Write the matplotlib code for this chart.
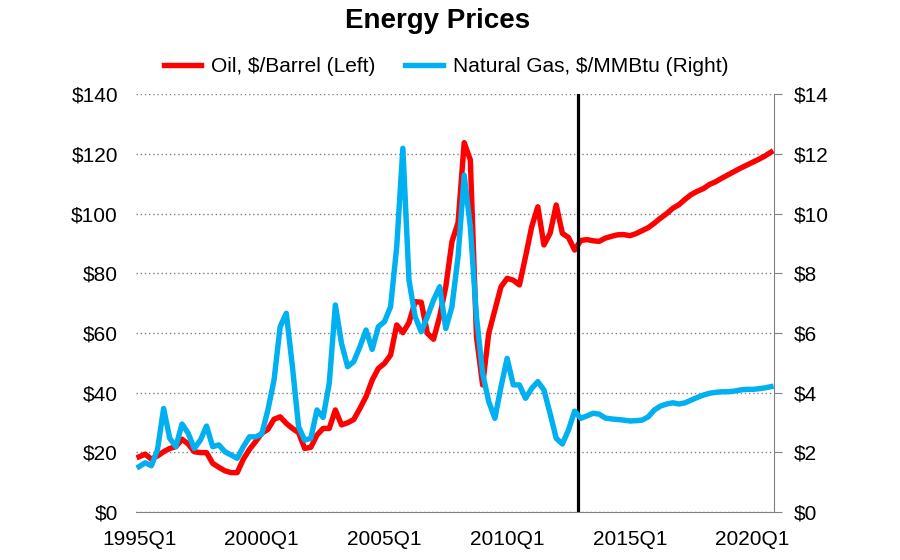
import numpy as np
import matplotlib
matplotlib.use("Agg")
import matplotlib.pyplot as plt

plt.rcParams['font.family'] = ['Liberation Sans', 'DejaVu Sans']

# quarterly, 1995Q1 .. 2020Q4
years = list(range(1995, 2021))
quarters = [f"{y}Q{q}" for y in years for q in range(1, 5)]

oil = [18.5, 19.4, 17.7, 18.8, 20.2, 21.3, 21.9, 24.4, 22.8, 20.2,
       19.9, 19.9, 16.3, 15.0, 13.8, 13.2, 13.2, 17.7, 21.0, 23.6,
       26.4, 27.7, 31.1, 31.9, 29.7, 28.0, 26.6, 21.3, 21.7, 25.8,
       28.0, 28.0, 34.2, 29.2, 29.9, 31.0, 34.7, 38.7, 44.2, 48.1,
       49.8, 52.6, 62.7, 60.1, 63.5, 70.5, 70.3, 59.9, 57.9, 65.5,
       75.5, 90.6, 97.0, 123.8, 118.0, 58.8, 42.6, 59.9, 67.7, 75.5,
       78.3, 77.7, 76.1, 85.6, 95.6, 102.3, 89.5, 93.4, 102.9, 93.4,
       92.0, 87.8,
       91.0, 91.3, 90.9, 90.7, 91.8, 92.4, 92.9, 93.0, 92.6, 93.3,
       94.3, 95.3, 96.8, 98.5, 100.0, 101.8, 103.0, 104.8, 106.4, 107.5,
       108.4, 109.8, 110.7, 111.9, 113.0, 114.1, 115.2, 116.2, 117.2, 118.2,
       119.3, 120.6]

gas = [1.52, 1.65, 1.55, 2.08, 3.47, 2.47, 2.19, 2.95, 2.64, 2.13,
       2.41, 2.88, 2.19, 2.25, 2.02, 1.91, 1.80, 2.19, 2.52, 2.52,
       2.61, 3.42, 4.42, 6.21, 6.66, 4.87, 2.86, 2.41, 2.47, 3.42,
       3.17, 4.31, 6.94, 5.65, 4.87, 5.04, 5.54, 6.10, 5.45, 6.21,
       6.38, 6.88, 8.89, 12.19, 7.77, 6.55, 6.04, 6.55, 7.10, 7.55,
       6.15, 6.88, 8.56, 11.29, 9.56, 6.55, 4.65, 3.70, 3.14, 4.20,
       5.15, 4.26, 4.26, 3.81, 4.14, 4.37, 4.09, 3.30, 2.47, 2.28,
       2.75, 3.38, 3.14, 3.22, 3.31, 3.28, 3.15, 3.12, 3.10, 3.08,
       3.05, 3.06, 3.08, 3.19, 3.42, 3.55, 3.62, 3.66, 3.62, 3.66,
       3.75, 3.84, 3.92, 3.98, 4.01, 4.03, 4.03, 4.05, 4.09, 4.11,
       4.11, 4.13, 4.16, 4.20]

last_actual = "2012Q4"
xtick_labels = ["1995Q1", "2000Q1", "2005Q1", "2010Q1", "2015Q1", "2020Q1"]
left_ticks = [0, 20, 40, 60, 80, 100, 120, 140]
right_ticks = [0, 2, 4, 6, 8, 10, 12, 14]

x = np.arange(len(quarters))

fig = plt.figure(figsize=(9, 5.6), dpi=100)
ax = fig.add_axes([136/900, 1-512/560, (774-136)/900, (512-94.3)/560])
ax2 = ax.twinx()

l1, = ax.plot(x, oil, color='#FF0000', lw=3.9, solid_joinstyle='round')
l2, = ax2.plot(x, gas, color='#00B0F0', lw=3.9, solid_joinstyle='round')

split = quarters.index(last_actual) + 0.5
ax.axvline(split, color='black', lw=2.3, zorder=5)

ax.set_xlim(-0.5, len(quarters) - 0.5)
ax.set_ylim(0, 140)
ax2.set_ylim(0, 14)

ax.set_yticks(left_ticks)
ax.set_yticklabels([f"${v}" for v in left_ticks])
ax2.set_yticks(right_ticks)
ax2.set_yticklabels([f"${v}" for v in right_ticks])
ax.set_xticks([quarters.index(q) for q in xtick_labels])
ax.set_xticklabels(xtick_labels)

ax.grid(axis='y', color='#808080', ls=(0, (1, 2)), lw=1)
ax.set_axisbelow(True)

for a in (ax, ax2):
    for s in ('top', 'left'):
        a.spines[s].set_visible(False)
    a.spines['bottom'].set_color('#808080')
    a.spines['right'].set_color('#808080')
ax.spines['right'].set_visible(False)
ax2.spines['bottom'].set_visible(False)

ax.tick_params(axis='y', length=0, pad=13, labelsize=15)
ax.tick_params(axis='x', length=0, pad=13, labelsize=15)
ax2.tick_params(axis='y', length=6, direction='out', color='#808080', pad=8, labelsize=15)

fig.text(438/900, 1-21/560, "Energy Prices", ha='center', va='center',
         fontsize=20, fontweight='bold')
fig.legend([l1, l2], ["Oil, $/Barrel (Left)", "Natural Gas, $/MMBtu (Right)"],
           loc='center', bbox_to_anchor=(446/900, 1-67/560), ncol=2, frameon=False,
           fontsize=15, handlelength=1.8, handletextpad=0.5, columnspacing=1.4)

fig.savefig("out.png", dpi=100, facecolor='white')
